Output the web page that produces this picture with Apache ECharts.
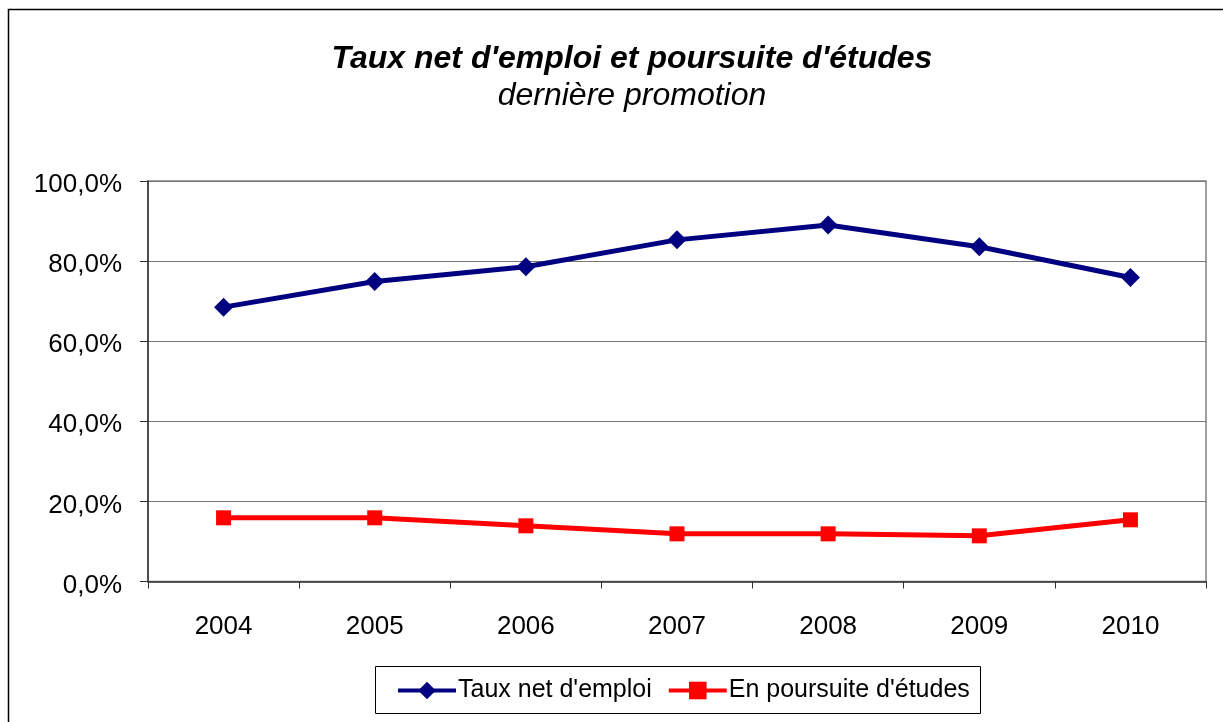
<!DOCTYPE html>
<html>
<head>
<meta charset="utf-8">
<script src="https://cdn.jsdelivr.net/npm/echarts@6/dist/echarts.min.js"></script>
<style>
html,body{margin:0;padding:0;background:#fff;}
#chart{width:1223px;height:722px;}
</style>
</head>
<body>
<div id="chart"></div>
<script>
const categories = ['2004','2005','2006','2007','2008','2009','2010'];
const tauxEmploi = [68.5, 74.9, 78.6, 85.3, 89.0, 83.6, 75.9];
const poursuiteEtudes = [15.9, 15.9, 13.9, 11.9, 11.9, 11.4, 15.4];
const seriesNames = ["Taux net d'emploi", "En poursuite d'études"];
const titleText = "Taux net d'emploi et poursuite d'études";
const subtitleText = "dernière promotion";

const chart = echarts.init(document.getElementById('chart'), null, {renderer: 'canvas'});
const font = '"Liberation Sans", Arial, sans-serif';
chart.setOption({
  animation: false,
  backgroundColor: '#fff',
  textStyle: {fontFamily: font},
  title: [
    {text: titleText, left: 632, top: 42, textAlign: 'center', padding: 0,
     textStyle: {fontFamily: font, fontSize: 32, lineHeight: 34, fontWeight: 'bold', fontStyle: 'italic', color: '#000'}},
    {text: subtitleText, left: 632, top: 79, textAlign: 'center', padding: 0,
     textStyle: {fontFamily: font, fontSize: 32, lineHeight: 34, fontWeight: 'normal', fontStyle: 'italic', color: '#000'}}
  ],
  graphic: [
    {type: 'rect', shape: {x: 8.5, y: 9.5, width: 1230, height: 730},
     style: {fill: 'none', stroke: '#000', lineWidth: 1.5}, silent: true, z: -1},
    {type: 'rect', shape: {x: 375.5, y: 666.5, width: 605, height: 47},
     style: {fill: '#fff', stroke: '#000', lineWidth: 1}, silent: true, z: 0}
  ],
  legend: {
    left: 396, top: 678, itemGap: 15, itemWidth: 58, itemHeight: 22, padding: 0,
    textStyle: {fontFamily: font, fontSize: 25, color: '#000', padding: [2,0,0,-3]},
    lineStyle: {width: 4},
    data: [seriesNames[0], seriesNames[1]],
    z: 5
  },
  grid: {left: 148, top: 181, right: 17, bottom: 140.5, show: true, borderColor: '#808080', borderWidth: 1.5, backgroundColor: '#fff'},
  xAxis: {
    type: 'category', data: categories, boundaryGap: true,
    axisLine: {lineStyle: {color: '#333', width: 1.5}},
    axisTick: {show: true, length: 7, interval: 0, lineStyle: {color: '#333'}},
    axisLabel: {fontFamily: font, fontSize: 26, color: '#000', margin: 32}
  },
  yAxis: {
    type: 'value', min: 0, max: 100, interval: 20,
    axisLine: {show: true, lineStyle: {color: '#333', width: 1.5}},
    axisTick: {show: true, length: 8, lineStyle: {color: '#333'}},
    axisLabel: {fontFamily: font, fontSize: 26, color: '#000', margin: 26,
      formatter: v => '{a|' + v.toFixed(1).replace('.', ',') + '%}',
      rich: {a: {fontFamily: font, fontSize: 26, color: '#000', padding: [8, 0, 0, 0]}}},
    splitLine: {show: true, lineStyle: {color: '#777', width: 1.2}}
  },
  series: [
    {name: seriesNames[0], type: 'line', data: tauxEmploi,
     symbol: 'diamond', symbolSize: 19, color: '#000080',
     lineStyle: {width: 5, color: '#000080'}, itemStyle: {color: '#000080'}},
    {name: seriesNames[1], type: 'line', data: poursuiteEtudes,
     symbol: 'rect', symbolSize: 15, color: '#ff0000',
     lineStyle: {width: 5, color: '#ff0000'}, itemStyle: {color: '#ff0000'}}
  ]
});
</script>
</body>
</html>
